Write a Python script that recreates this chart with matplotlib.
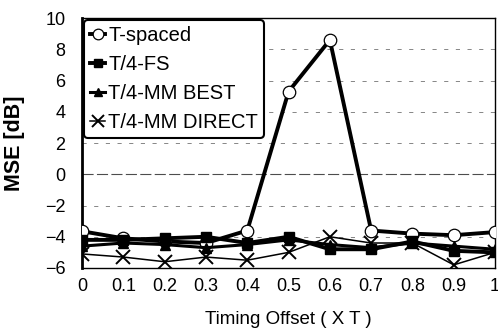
import matplotlib as mpl
mpl.use("Agg")
import matplotlib.pyplot as plt
import numpy as np

# Timing offset (fraction of T)
offset = [0, 0.1, 0.2, 0.3, 0.4, 0.5, 0.6, 0.7, 0.8, 0.9, 1.0]

# MSE [dB]
t_spaced = [-3.65, -4.1, -4.3, -4.4, -3.6, 5.3, 8.6, -3.6, -3.8, -3.9, -3.7]
t4_fs = [-4.2, -4.2, -4.1, -4.0, -4.4, -4.0, -4.8, -4.8, -4.3, -4.9, -5.0]
t4_mm_best = [-4.6, -4.4, -4.5, -4.7, -4.5, -4.2, -4.5, -4.7, -4.4, -4.6, -4.8]
t4_mm_direct = [-5.1, -5.3, -5.6, -5.3, -5.5, -5.0, -4.0, -4.4, -4.4, -5.8, -5.0]

xticks = [0, 0.1, 0.2, 0.3, 0.4, 0.5, 0.6, 0.7, 0.8, 0.9, 1.0]
xticklabels = ["0", "0.1", "0.2", "0.3", "0.4", "0.5", "0.6", "0.7", "0.8", "0.9", "1"]
yticks = [-6, -4, -2, 0, 2, 4, 6, 8, 10]

plt.rcParams["font.family"] = ["Liberation Sans", "DejaVu Sans"]

fig = plt.figure(figsize=(4.98, 3.35), dpi=100)
ax = fig.add_axes([0.165, 0.2, 0.829, 0.746])

# faint dashed horizontal grid
for yv in yticks[1:-1]:
    if yv == 0:
        ax.axhline(yv, color="0.3", lw=0.8, ls=(0, (10, 3)), zorder=1)
    else:
        ax.axhline(yv, color="0.45", lw=0.6, ls=(0, (5, 9)), zorder=1)

ax.plot(offset, t_spaced, color="black", lw=2.8, marker="o", ms=9,
        mfc="white", mec="black", mew=0.9, label="T-spaced", zorder=3)
ax.plot(offset, t4_fs, color="black", lw=2.8, marker="s", ms=7.5,
        mfc="black", mec="black", label="T/4-FS", zorder=4)
ax.plot(offset, t4_mm_best, color="black", lw=2.2, marker="^", ms=7.5,
        mfc="black", mec="black", label="T/4-MM BEST", zorder=4)
ax.plot(offset, t4_mm_direct, color="black", lw=1.1, marker="x", ms=10,
        mew=1.4, label="T/4-MM DIRECT", zorder=4)

ax.set_xlim(0, 1)
ax.set_ylim(-6, 10)
ax.set_xticks(xticks)
ax.set_xticklabels(xticklabels)
ax.set_yticks(yticks)
ax.tick_params(axis="x", labelsize=13, length=0, pad=7)
ax.tick_params(axis="y", labelsize=13, length=0, pad=12)

for side in ["top", "right", "bottom"]:
    ax.spines[side].set_linewidth(1.0)
ax.spines["left"].set_linewidth(2.0)

ax.set_xlabel("Timing Offset ( X T )", fontsize=13.5, labelpad=12)
ax.set_ylabel("MSE [dB]", fontsize=15.5, fontweight="bold", labelpad=14)

leg = ax.legend(loc="upper left", bbox_to_anchor=(0.0, 1.0), fontsize=14.5,
                frameon=True, fancybox=True, handlelength=0.75,
                handletextpad=0.15, borderpad=0.3, labelspacing=0.5,
                borderaxespad=0.1, markerscale=0.85)
leg.get_frame().set_edgecolor("black")
leg.get_frame().set_linewidth(1.5)
leg.get_frame().set_alpha(1)

fig.savefig("out.png", dpi=100)
